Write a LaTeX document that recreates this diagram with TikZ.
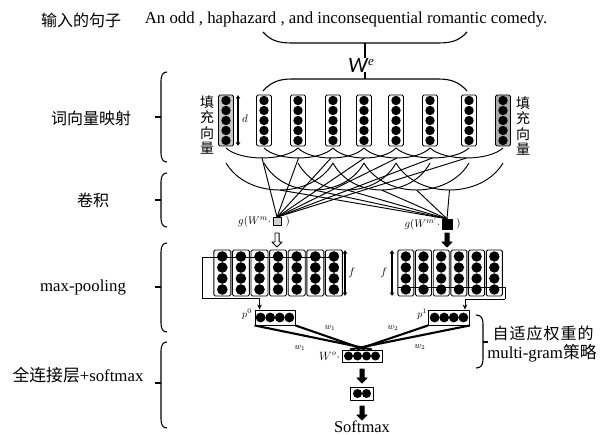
\documentclass[tikz,border=0pt]{standalone}
\usepackage{fontspec}
\setmainfont{Liberation Serif}
\newfontfamily\cjk{Noto Sans CJK SC}
\newfontfamily\carl{Carlito}
\usetikzlibrary{arrows.meta,calc,shapes.arrows}
\begin{document}
\begin{tikzpicture}[x=1pt,y=-1pt, line join=round,
  vecbox/.style={draw, line width=0.9pt, rounded corners=1.5pt, minimum width=15pt, minimum height=51pt, inner sep=0pt},
  colbox/.style={draw, line width=0.9pt, rounded corners=1.5pt, minimum width=17pt, minimum height=46pt, inner sep=0pt},
  rowbox/.style={draw, line width=0.9pt, inner sep=0pt},
  brk/.style={line width=1.1pt},
  web/.style={line width=0.95pt},
  dimarrow/.style={line width=1.8pt, {Latex[length=3.5pt,width=5pt]}-{Latex[length=3.5pt,width=5pt]}},
  txt/.style={font=\fontsize{16.8}{19}\selectfont},
  cjktxt/.style={font=\cjk\fontsize{16}{19}\selectfont},
  small/.style={font=\fontsize{11}{12}\selectfont},
  tiny/.style={font=\fontsize{9}{10}\selectfont},
  blockarrow/.style={single arrow, draw, line width=0.8pt, shape border rotate=270, minimum height=14pt, single arrow head extend=3pt, inner sep=1.7pt},
  fatline/.style={line width=2.1pt},
  selline/.style={line width=0.9pt},
  selarrow/.style={line width=0.9pt, -{Stealth[length=5pt,width=4.5pt]}}
]
\useasboundingbox (0,0) rectangle (601,435);

% ---- top text
\node[cjktxt] (inlabel) at (81,20) {输入的句子};
\node[txt] (sent) at (346,19) {An odd , haphazard , and inconsequential romantic comedy.};

% ---- brackets and W^e
\draw[brk] (263,32) .. controls (271,41) and (279,43) .. (292,43) -- (438,43) .. controls (451,43) and (459,41) .. (467,32);
\draw[brk] (263,91) .. controls (271,82) and (279,79) .. (292,79) -- (438,79) .. controls (451,79) and (459,82) .. (467,91);
\coordinate (ubm) at (365,43);
\coordinate (lbm) at (365,79);
\draw[brk] (ubm) -- (lbm);
\node[fill=white, inner sep=0.3pt] (We) at (361,65) {\fontsize{22}{22}\selectfont\carl\itshape W\kern0.5pt\raisebox{7pt}{\fontsize{13}{13}\selectfont\rmfamily e}};

% ---- word vectors
\def\xs{{226,264,298,333,364,396,430,469,503}}
\foreach \x/\fc [count=\i] in {226/gray!45,264/white,298/white,333/white,364/white,396/white,430/white,469/white,503/gray!65}{
  \node[vecbox, fill=\fc] (v\i) at (\x,120.5) {};
  \foreach \k in {0,...,4} \fill (\x,{100.5+10*\k}) circle (4.7pt);
}
\draw[dimarrow] (238,95) -- (238,146);
\node[small] (dlab) at (245,119) {$d$};
\node[font=\cjk\fontsize{14}{15.5}\selectfont, align=center, inner sep=0pt] (padL) at (207,125) {填\\充\\向\\量};
\node[font=\cjk\fontsize{14}{15.5}\selectfont, align=center, inner sep=0pt] (padR) at (523,126) {填\\充\\向\\量};

% ---- convolution nodes
\node[draw, line width=0.7pt, fill=gray!35, minimum size=8pt, inner sep=0pt] (c1) at (277,221.5) {};
\node[draw, fill=black, minimum size=10pt, inner sep=0pt] (c2) at (447,224) {};
\node[small, anchor=east, inner sep=1.5pt] (c1l) at (c1.west) {$g(W^{m}\cdot$};
\node[small, anchor=west, inner sep=4pt] (c1r) at (c1.east) {$)$};
\node[small, anchor=east, inner sep=1.5pt] (c2l) at (c2.west) {$g(W^{m'}\cdot$};
\node[small, anchor=west, inner sep=4pt] (c2r) at (c2.east) {$)$};

% ---- window arcs (3 vectors) -> c1
\foreach \i in {0,...,6}{
  \pgfmathsetmacro\a{\xs[\i]}
  \pgfmathsetmacro\b{\xs[\i+2]}
  \pgfmathsetmacro\w{\b-\a}
  \draw[web] (\a,148) .. controls ({\a+0.2*\w},161.3) and ({\b-0.2*\w},161.3) .. (\b,148);
  \coordinate (s\i) at ({(\a+\b)/2},158);
  \draw[web] (c1.north) -- (s\i);
}
% ---- window arcs (4 vectors) -> c2
\foreach \i in {0,...,5}{
  \pgfmathsetmacro\a{\xs[\i]}
  \pgfmathsetmacro\b{\xs[\i+3]}
  \pgfmathsetmacro\w{\b-\a}
  \draw[web] (\a,163) .. controls ({\a+0.2*\w},199) and ({\b-0.2*\w},199) .. (\b,163);
  \coordinate (t\i) at ({(\a+\b)/2},190);
  \draw[web] (c2.north) -- (t\i);
}

% ---- arrows to pooling
\node[blockarrow, fill=white] (ar1) at (277,239) {};
\node[blockarrow, fill=black] (ar2) at (447,239) {};

% ---- pooling blocks
\foreach \k in {0,...,6}{
  \pgfmathsetmacro\cx{222.3+18.6*\k}
  \node[colbox] (pa\k) at (\cx,273) {};
  \foreach \j in {0,...,3} \fill (\cx,{256.5+11*\j}) circle (5.3pt);
}
\foreach \k in {0,...,5}{
  \pgfmathsetmacro\cx{405.8+17.7*\k}
  \node[colbox, minimum width=16pt] (pb\k) at (\cx,273) {};
  \foreach \j in {0,...,3} \fill (\cx,{256.5+11*\j}) circle (5.2pt);
}
\draw[dimarrow] (345,250) -- (345,296);
\node[small] (fL) at (352,273) {$f$};
\draw[dimarrow] (392,250) -- (392,296);
\node[small] (fR) at (384,273) {$f$};

% ---- pooled vectors
\node[rowbox, minimum width=40pt, minimum height=15pt] (p0) at (275,317.5) {};
\foreach \k in {0,...,3} \fill ({260.6+9.6*\k},317.5) circle (4.9pt);
\node[rowbox, minimum width=41pt, minimum height=15pt] (p1) at (449,317.5) {};
\foreach \k in {0,...,3} \fill ({434.6+9.6*\k},317.5) circle (4.9pt);
\node[font=\fontsize{10}{11}\selectfont] (p0l) at (247,314) {$p^0$};
\node[font=\fontsize{10}{11}\selectfont] (p1l) at (422,314) {$p^1$};

% ---- selection paths
\coordinate (selLa) at (338,257);
\coordinate (selLb) at (202,257);
\coordinate (selLc) at (202,298);
\draw[selline] (selLa) -- (selLb) -- (selLc);
\draw[selarrow] (selLc) -| ([xshift=5pt]p0.north west);
\coordinate (selRa) at (398,287);
\coordinate (selRb) at (505,287);
\coordinate (selRc) at (505,299);
\draw[selline] (selRa) -- (selRb) -- (selRc);
\draw[selarrow] (selRc) -| ([xshift=-5pt]p1.north east);

% ---- output layer
\node[rowbox, minimum width=40pt, minimum height=12pt] (Wo) at (362,356) {};
\foreach \k in {0,...,3} \fill ({348.5+9*\k},356) circle (4.5pt);
\node[font=\fontsize{12}{13}\selectfont, anchor=east, inner sep=1.5pt] (Wol) at (Wo.west) {$W^{o}\cdot$};
\draw[fatline] (p0.south west) -- ($(Wo.north)+(10,0)$);
\draw[fatline] (p0.south east) -- ($(Wo.north)+(3,0)$);
\draw[fatline] (p1.south east) -- ($(Wo.north)+(-12,0)$);
\draw[fatline] (p1.south west) -- ($(Wo.north)+(-5,0)$);
\node[tiny] (w1a) at (330,328) {$w_1$};
\node[tiny] (w1b) at (300,348) {$w_1$};
\node[tiny] (w2a) at (393,328) {$w_2$};
\node[tiny] (w2b) at (420,347) {$w_2$};

\node[rowbox, minimum width=23pt, minimum height=13pt] (sm) at (362,393.5) {};
\foreach \k in {0,1} \fill ({357.5+9*\k},393.5) circle (4.5pt);
\node[blockarrow, fill=black] (ar3) at (362,375) {};
\node[blockarrow, fill=black] (ar4) at (362,412) {};
\node[font=\fontsize{16.5}{17}\selectfont, inner sep=1pt] (softmax) at (362,427) {Softmax};

% ---- right brace
\draw[brk] (476,315) .. controls (481,315) and (483,318) .. (483,324) -- (483,359) .. controls (483,365) and (481,368) .. (476,368);
\draw[brk] (483,342) -- (488,342);
\node[cjktxt] (strat1) at (543,333) {自\kern1pt 适\kern1pt 应\kern1pt 权\kern1pt 重\kern1pt 的};
\node[txt] (strat2) at (542,353) {multi-gram{\cjk 策略}};

% ---- left braces and labels
\foreach \t/\b/\m in {72/162/117, 173/227/200, 243/332/287, 342/428/383}{
  \draw[brk] (167,\t) .. controls (163,\t) and (161,{\t+3}) .. (161,{\t+9}) -- (161,{\b-9}) .. controls (161,{\b-3}) and (163,\b) .. (167,\b);
  \draw[brk] (155,\m) -- (161,\m);
}
\node[cjktxt] (lab1) at (91,118) {词向量映射};
\node[cjktxt] (lab2) at (93,200) {卷积};
\node[txt] (lab3) at (83,287) {max-pooling};
\node[txt] (lab4) at (78,375) {{\cjk 全连接层}+softmax};
\end{tikzpicture}
\end{document}
